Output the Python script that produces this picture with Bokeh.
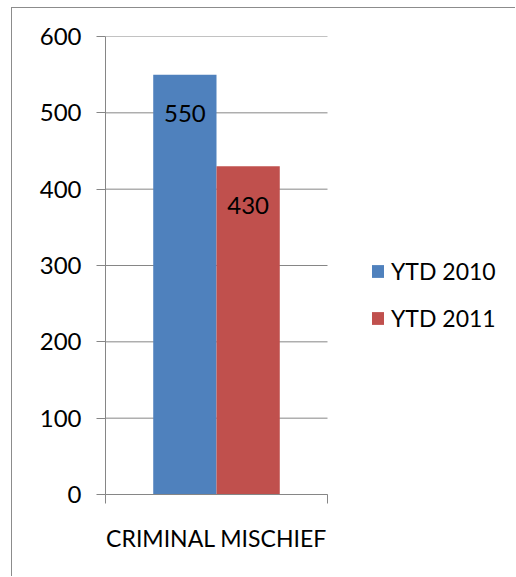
from bokeh.plotting import figure
from bokeh.models import (ColumnDataSource, Range1d, LinearAxis,
                          FixedTicker, Legend, LegendItem)
from bokeh.transform import dodge
from bokeh.core.properties import value
from bokeh.embed import file_html
from bokeh.resources import INLINE

categories = ["CRIMINAL MISCHIEF"]
series = ["YTD 2010", "YTD 2011"]
ytd2010 = [550]
ytd2011 = [430]
yticks = [0, 100, 200, 300, 400, 500, 600]

colors = ["#4F81BD", "#C0504D"]
grey = "#868686"
FONT = "Lato"

W, H = 504, 569
LEFT, TOP, BOTTOM = 93, 28, 83
SLOT_PX = 222                      # pixel width of the category area
frame_px = W - LEFT                # frame extends under the legend area
ncat = len(categories)
x_end = ncat * frame_px / SLOT_PX

# category slots: each category occupies one unit on the x scale
centers = [i + 0.5 for i in range(ncat)]
bounds = [float(i) for i in range(ncat + 1)]

source = ColumnDataSource(dict(
    x=centers,
    v2010=ytd2010,
    v2011=ytd2011,
    l2010=[str(v) for v in ytd2010],
    l2011=[str(v) for v in ytd2011],
))
grid_src = ColumnDataSource(dict(y=yticks, x0=[0] * len(yticks), x1=[ncat] * len(yticks)))

p = figure(width=W, height=H, x_range=Range1d(0, x_end),
           y_range=Range1d(0, 600), output_backend="svg", toolbar_location=None,
           x_axis_location=None, y_axis_location=None,
           min_border_left=LEFT, min_border_right=0, min_border_top=TOP, min_border_bottom=BOTTOM)
p.styles = {"margin-left": "11px", "margin-top": "7px",
            "border-left": "1px solid #8c8c8c", "border-top": "1px solid #8c8c8c",
            "border-right": "none", "border-bottom": "none",
            "outline": "none", "box-shadow": "none"}
p.outline_line_color = None
p.border_fill_color = "white"
p.background_fill_color = "white"
p.xgrid.visible = False
p.ygrid.visible = False

# horizontal gridlines spanning only the category area
p.segment(x0="x0", x1="x1", y0="y", y1="y", source=grid_src, line_color=grey, line_width=1)

# y axis
yax = LinearAxis(ticker=FixedTicker(ticks=yticks, minor_ticks=[]))
yax.axis_line_color = grey
yax.major_tick_line_color = grey
yax.major_tick_out = 9
yax.major_tick_in = 0
yax.minor_tick_line_color = None
yax.major_label_text_font = FONT
yax.major_label_text_font_size = "24px"
yax.major_label_text_color = "black"
yax.major_label_standoff = 15
p.add_layout(yax, "left")

# x axis: category label at slot centre, ticks at slot boundaries
xax = LinearAxis(ticker=FixedTicker(ticks=centers, minor_ticks=bounds), bounds=(0, ncat))
xax.major_label_overrides = {c: lab for c, lab in zip(centers, categories)}
xax.axis_line_color = grey
xax.major_tick_line_color = None
xax.major_tick_out = 0
xax.major_tick_in = 0
xax.minor_tick_line_color = grey
xax.minor_tick_out = 9
xax.minor_tick_in = 0
xax.major_label_text_font = FONT
xax.major_label_text_font_size = "23px"
xax.major_label_text_color = "black"
xax.major_label_standoff = 20
p.add_layout(xax, "below")

w = 0.285
r1 = p.vbar(x=dodge("x", -w / 2), top="v2010", width=w,
            source=source, fill_color=colors[0], line_color=None)
r2 = p.vbar(x=dodge("x", w / 2), top="v2011", width=w,
            source=source, fill_color=colors[1], line_color=None)

for col, lab, dx in (("v2010", "l2010", -w / 2), ("v2011", "l2011", w / 2)):
    p.text(x=dodge("x", dx), y=col, text=lab, source=source,
           text_font=value(FONT), text_font_size="24px", text_color="black",
           text_align="center", text_baseline="middle", y_offset=39)

legend = Legend(items=[LegendItem(label=series[0], renderers=[r1]),
                       LegendItem(label=series[1], renderers=[r2])],
                location=(265, 162), orientation="vertical")
legend.glyph_width = 15
legend.glyph_height = 16
legend.label_standoff = 6
legend.padding = 0
legend.margin = 0
legend.spacing = 19
legend.label_text_font = FONT
legend.label_text_font_size = "23px"
legend.label_text_color = "black"
legend.border_line_color = None
legend.background_fill_alpha = 0
p.add_layout(legend, "center")

open("out.html", "w").write(file_html(p, INLINE))
